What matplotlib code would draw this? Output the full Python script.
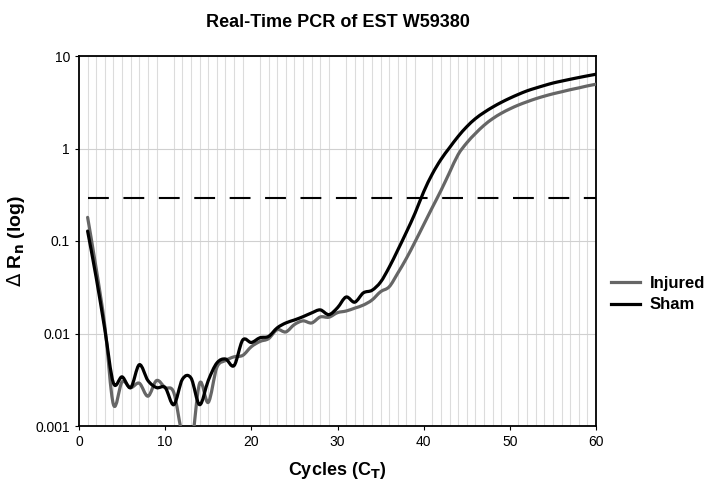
import numpy as np
import matplotlib
matplotlib.use("Agg")
import matplotlib.pyplot as plt
from matplotlib.path import Path
from matplotlib.patches import PathPatch
from matplotlib.lines import Line2D
from matplotlib.ticker import FixedLocator, FixedFormatter

cycles = list(range(1, 61))
injured = [0.18, 0.05, 0.012, 0.0017, 0.0030, 0.0026, 0.0029, 0.0021, 0.0031, 0.0026,
           0.0023, 0.0008, 0.0006, 0.0029, 0.0018, 0.0043, 0.0051, 0.0056, 0.0058, 0.0072,
           0.0082, 0.0088, 0.011, 0.0104, 0.0125, 0.0137, 0.013, 0.0151, 0.015, 0.0168,
           0.0175, 0.0188, 0.0203, 0.023, 0.0283, 0.032, 0.045, 0.065, 0.098, 0.15,
           0.23, 0.35, 0.55, 0.86, 1.15, 1.45, 1.78, 2.1, 2.4, 2.68,
           2.95, 3.2, 3.45, 3.68, 3.9, 4.1, 4.32, 4.52, 4.75, 4.95]
sham = [0.128, 0.04, 0.011, 0.0029, 0.0034, 0.0026, 0.0046, 0.0031, 0.0026, 0.0026,
        0.0017, 0.0032, 0.0033, 0.0017, 0.0031, 0.0048, 0.0053, 0.0045, 0.0085, 0.008,
        0.009, 0.0093, 0.0115, 0.013, 0.014, 0.0152, 0.0167, 0.018, 0.016, 0.019,
        0.0248, 0.0218, 0.0275, 0.0293, 0.036, 0.052, 0.08, 0.125, 0.2, 0.34,
        0.53, 0.76, 1.02, 1.35, 1.72, 2.1, 2.45, 2.8, 3.15, 3.5,
        3.85, 4.2, 4.5, 4.8, 5.1, 5.35, 5.6, 5.85, 6.1, 6.35]
threshold = 0.29
series_names = ["Injured", "Sham"]
series_colors = ["#666666", "#000000"]
xticks = [0, 10, 20, 30, 40, 50, 60]
yticks = [0.001, 0.01, 0.1, 1, 10]
ytick_labels = ["0.001", "0.01", "0.1", "1", "10"]

plt.rcParams['font.family'] = ['Liberation Sans', 'DejaVu Sans']

fig = plt.figure(figsize=(7.2, 4.84), dpi=100)
ax = fig.add_axes([79/720, 1-426/484, (596-79)/720, (426-56)/484])
ax.set_yscale('log')
ax.set_xlim(0, 60)
ax.set_ylim(0.001, 10)


def smooth_path(x, y):
    # Catmull-Rom style smoothing in (x, log10 y) space, drawn as cubic Beziers
    x = np.asarray(x, float)
    ly = np.log10(np.asarray(y, float))
    n = len(x)
    verts = [(x[0], ly[0])]
    codes = [Path.MOVETO]
    t = 1/6
    for i in range(n - 1):
        p0 = (x[max(i-1, 0)], ly[max(i-1, 0)])
        p1 = (x[i], ly[i])
        p2 = (x[i+1], ly[i+1])
        p3 = (x[min(i+2, n-1)], ly[min(i+2, n-1)])
        c1 = (p1[0] + (p2[0]-p0[0])*t, p1[1] + (p2[1]-p0[1])*t)
        c2 = (p2[0] - (p3[0]-p1[0])*t, p2[1] - (p3[1]-p1[1])*t)
        verts += [c1, c2, p2]
        codes += [Path.CURVE4]*3
    verts = [(vx, 10**vy) for vx, vy in verts]
    return Path(verts, codes)


ax.plot([cycles[0], cycles[-1]], [threshold, threshold], color='black', lw=1.5,
        dashes=(10, 7), zorder=2)

for name, vals, col in zip(series_names, [injured, sham], series_colors):
    patch = PathPatch(smooth_path(cycles, vals), facecolor='none', edgecolor=col,
                      lw=2.3, zorder=3, capstyle='round', joinstyle='round')
    ax.add_patch(patch)

ax.xaxis.set_major_locator(FixedLocator(xticks))
ax.xaxis.set_minor_locator(FixedLocator(list(range(0, 61))))
ax.yaxis.set_major_locator(FixedLocator(yticks))
ax.yaxis.set_major_formatter(FixedFormatter(ytick_labels))
ax.yaxis.set_minor_locator(FixedLocator([]))
ax.grid(True, which='major', axis='y', color='#d0d0d0', lw=0.8)
ax.grid(True, which='minor', axis='x', color='#dcdcdc', lw=0.8)
ax.set_axisbelow(True)
ax.tick_params(axis='both', which='major', labelsize=10, length=3, direction='out')
ax.tick_params(axis='x', which='minor', length=0)
for s in ax.spines.values():
    s.set_color('black')
    s.set_linewidth(1.3)

ax.set_title("Real-Time PCR of EST W59380", fontsize=13, fontweight='bold', pad=21)
ax.set_xlabel(r"Cycles (C$_\mathbf{T}$)", fontsize=13, fontweight='bold', labelpad=8)
ax.set_ylabel(r"$\Delta$ R$_\mathbf{n}$ (log)", fontsize=14, fontweight='bold', labelpad=6)

handles = [Line2D([0], [0], color=c, lw=2.3) for c in series_colors]
leg = fig.legend(handles, series_names, loc='center left', bbox_to_anchor=(608/720, 1-294/484),
                 frameon=False, prop={'size': 12, 'weight': 'bold'}, handlelength=1.7,
                 handletextpad=0.6, labelspacing=0.4, borderaxespad=0, borderpad=0.2)

fig.savefig("out.png", dpi=100)
